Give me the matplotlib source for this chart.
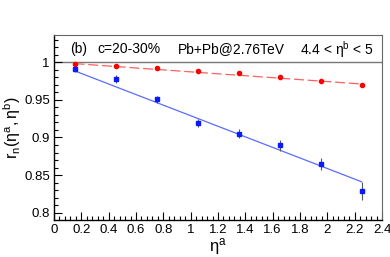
import matplotlib
matplotlib.use("Agg")
import matplotlib.pyplot as plt
import numpy as np
from matplotlib.ticker import MultipleLocator

plt.rcParams['font.family'] = ['Liberation Sans', 'DejaVu Sans']
plt.rcParams['mathtext.fontset'] = 'custom'
plt.rcParams['mathtext.rm'] = 'Liberation Sans'
plt.rcParams['mathtext.it'] = 'Liberation Sans'

eta_a = [0.15, 0.45, 0.75, 1.05, 1.35, 1.65, 1.95, 2.25]
r_red = [0.998, 0.995, 0.992, 0.9885, 0.9858, 0.9805, 0.975, 0.970]
err_red = [0.001, 0.001, 0.001, 0.001, 0.001, 0.001, 0.0015, 0.0015]
r_blue = [0.9903, 0.9775, 0.9505, 0.9195, 0.905, 0.8895, 0.8643, 0.829]
err_blue = [0.003, 0.005, 0.005, 0.005, 0.006, 0.007, 0.008, 0.012]
red_fit = (1.0, -0.0129)
blue_fit = (0.999, -0.0701)

fig = plt.figure(figsize=(3.9, 2.57), dpi=100)
ax = fig.add_axes([54/390, 1-220/257, (382-54)/390, (220-35)/257])

x = np.array(eta_a)
xf = np.array([x[0], x[-1]])
ax.plot(xf, red_fit[0] + red_fit[1]*xf, color='#ff6060', lw=0.9, dashes=(8, 3), zorder=2)
ax.plot(xf, blue_fit[0] + blue_fit[1]*xf, color='#5a6cff', lw=0.9, zorder=2)
ax.errorbar(x, r_red, yerr=err_red, fmt='o', color='red', ms=3, ecolor='#555555', elinewidth=0.8, capsize=0, zorder=3)
ax.errorbar(x, r_blue, yerr=err_blue, fmt='s', color='#0a1aff', ms=3.5, ecolor='#555555', elinewidth=0.8, capsize=0, zorder=3)

ax.axhline(1.0, color='#777777', lw=1.0, zorder=1)

ax.set_xlim(0, 2.4)
ax.set_ylim(0.7905, 1.036)
ax.xaxis.set_minor_locator(MultipleLocator(0.04))
ax.yaxis.set_minor_locator(MultipleLocator(0.01))
ax.set_xticks([0, 0.2, 0.4, 0.6, 0.8, 1.0, 1.2, 1.4, 1.6, 1.8, 2.0, 2.2, 2.4])
ax.set_xticklabels(['0', '0.2', '0.4', '0.6', '0.8', '1', '1.2', '1.4', '1.6', '1.8', '2', '2.2', '2.4'])
ax.set_yticks([0.8, 0.85, 0.9, 0.95, 1.0])
ax.set_yticklabels(['0.8', '0.85', '0.9', '0.95', '1'])
ax.tick_params(which='both', direction='in', top=False, right=False, labelsize=9.5, pad=3)
ax.tick_params(which='major', length=6, width=0.8)
ax.tick_params(which='minor', length=3, width=0.8)
for s in ['left', 'bottom']:
    ax.spines[s].set_linewidth(1.0)
for s in ['top', 'right']:
    ax.spines[s].set_color('#666666')
    ax.spines[s].set_linewidth(0.8)

ax.set_xlabel(r'$\mathregular{\eta^a}$', fontsize=12, labelpad=0)
ax.set_ylabel(r'$\mathregular{r_n(\eta^a,\eta^b)}$', fontsize=11.5)
ax.yaxis.set_label_coords(-0.095, 0.5)

ty = 1.017
ax.text(0.115, ty, '(b)', fontsize=10, va='center')
ax.text(0.32, ty, 'c=20-30%', fontsize=10, va='center')
ax.text(0.905, ty, 'Pb+Pb@2.76TeV', fontsize=10, va='center')
ax.text(1.80, ty, r'4.4 < $\mathregular{\eta^b}$ < 5', fontsize=10, va='center')

fig.savefig('out.png', dpi=100)
